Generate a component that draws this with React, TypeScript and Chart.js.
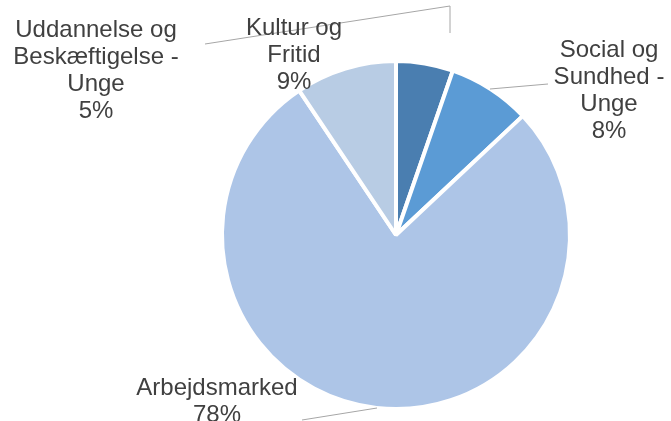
import React, { useEffect, useRef } from "react";
import { Chart, registerables } from "chart.js";

Chart.register(...registerables);

const categories = [
  ["Uddannelse og", "Beskæftigelse -", "Unge"],
  ["Social og", "Sundhed -", "Unge"],
  ["Arbejdsmarked"],
  ["Kultur og", "Fritid"],
];
const values = [5.3, 7.7, 77.6, 9.4];
const colors = ["#4A7EB0", "#5B9BD5", "#ADC5E7", "#B8CCE4"];

// label layout: offsets from pie centre (px)
const labelOffsets = [
  { dx: -300, dy: -198 },
  { dx: 213, dy: -178 },
  { dx: -179, dy: 160 },
  { dx: -102, dy: -200 },
];
const leaderLines: number[][][] = [
  [[-191, -191], [54, -229], [54, -202]],
  [[94, -146], [152, -151]],
  [[-19, 173], [-94, 185]],
  [],
];

const labelPlugin = {
  id: "pieLabels",
  afterDraw(chart: any) {
    const ctx = chart.ctx;
    const meta = chart.getDatasetMeta(0);
    const arc = meta.data[0];
    if (!arc) return;
    const cx = arc.x;
    const cy = arc.y;
    const total = values.reduce((a, b) => a + b, 0);
    ctx.save();
    ctx.strokeStyle = "#A6A6A6";
    ctx.lineWidth = 1;
    leaderLines.forEach((pts) => {
      if (!pts.length) return;
      ctx.beginPath();
      pts.forEach((p, i) => {
        if (i === 0) ctx.moveTo(cx + p[0], cy + p[1]);
        else ctx.lineTo(cx + p[0], cy + p[1]);
      });
      ctx.stroke();
    });
    ctx.fillStyle = "#404040";
    ctx.font = '24px "Liberation Sans", Arial, sans-serif';
    ctx.textAlign = "center";
    ctx.textBaseline = "alphabetic";
    const lh = 27;
    categories.forEach((lines, i) => {
      const o = labelOffsets[i];
      const all = [...lines, Math.round((values[i] / total) * 100) + "%"];
      all.forEach((t, j) => {
        ctx.fillText(t, cx + o.dx, cy + o.dy + j * lh);
      });
    });
    ctx.restore();
  },
};

export default function App() {
  const ref = useRef<HTMLCanvasElement | null>(null);
  useEffect(() => {
    if (!ref.current) return;
    const chart = new Chart(ref.current, {
      type: "pie",
      data: {
        labels: categories.map((c) => c.join(" ")),
        datasets: [
          {
            data: values,
            backgroundColor: colors,
            borderColor: "#FFFFFF",
            borderWidth: 4,
            hoverOffset: 0,
          },
        ],
      },
      options: {
        animation: false,
        responsive: true,
        maintainAspectRatio: false,
        radius: 174,
        layout: { padding: { left: 224, right: 103, top: 63, bottom: 14 } },
        plugins: {
          legend: { display: false },
          tooltip: { enabled: false },
        },
      },
      plugins: [labelPlugin],
    });
    return () => chart.destroy();
  }, []);
  return (
    <div style={{ position: "absolute", left: 0, top: 0, width: 671, height: 421, background: "#fff" }}>
      <canvas ref={ref} />
    </div>
  );
}
